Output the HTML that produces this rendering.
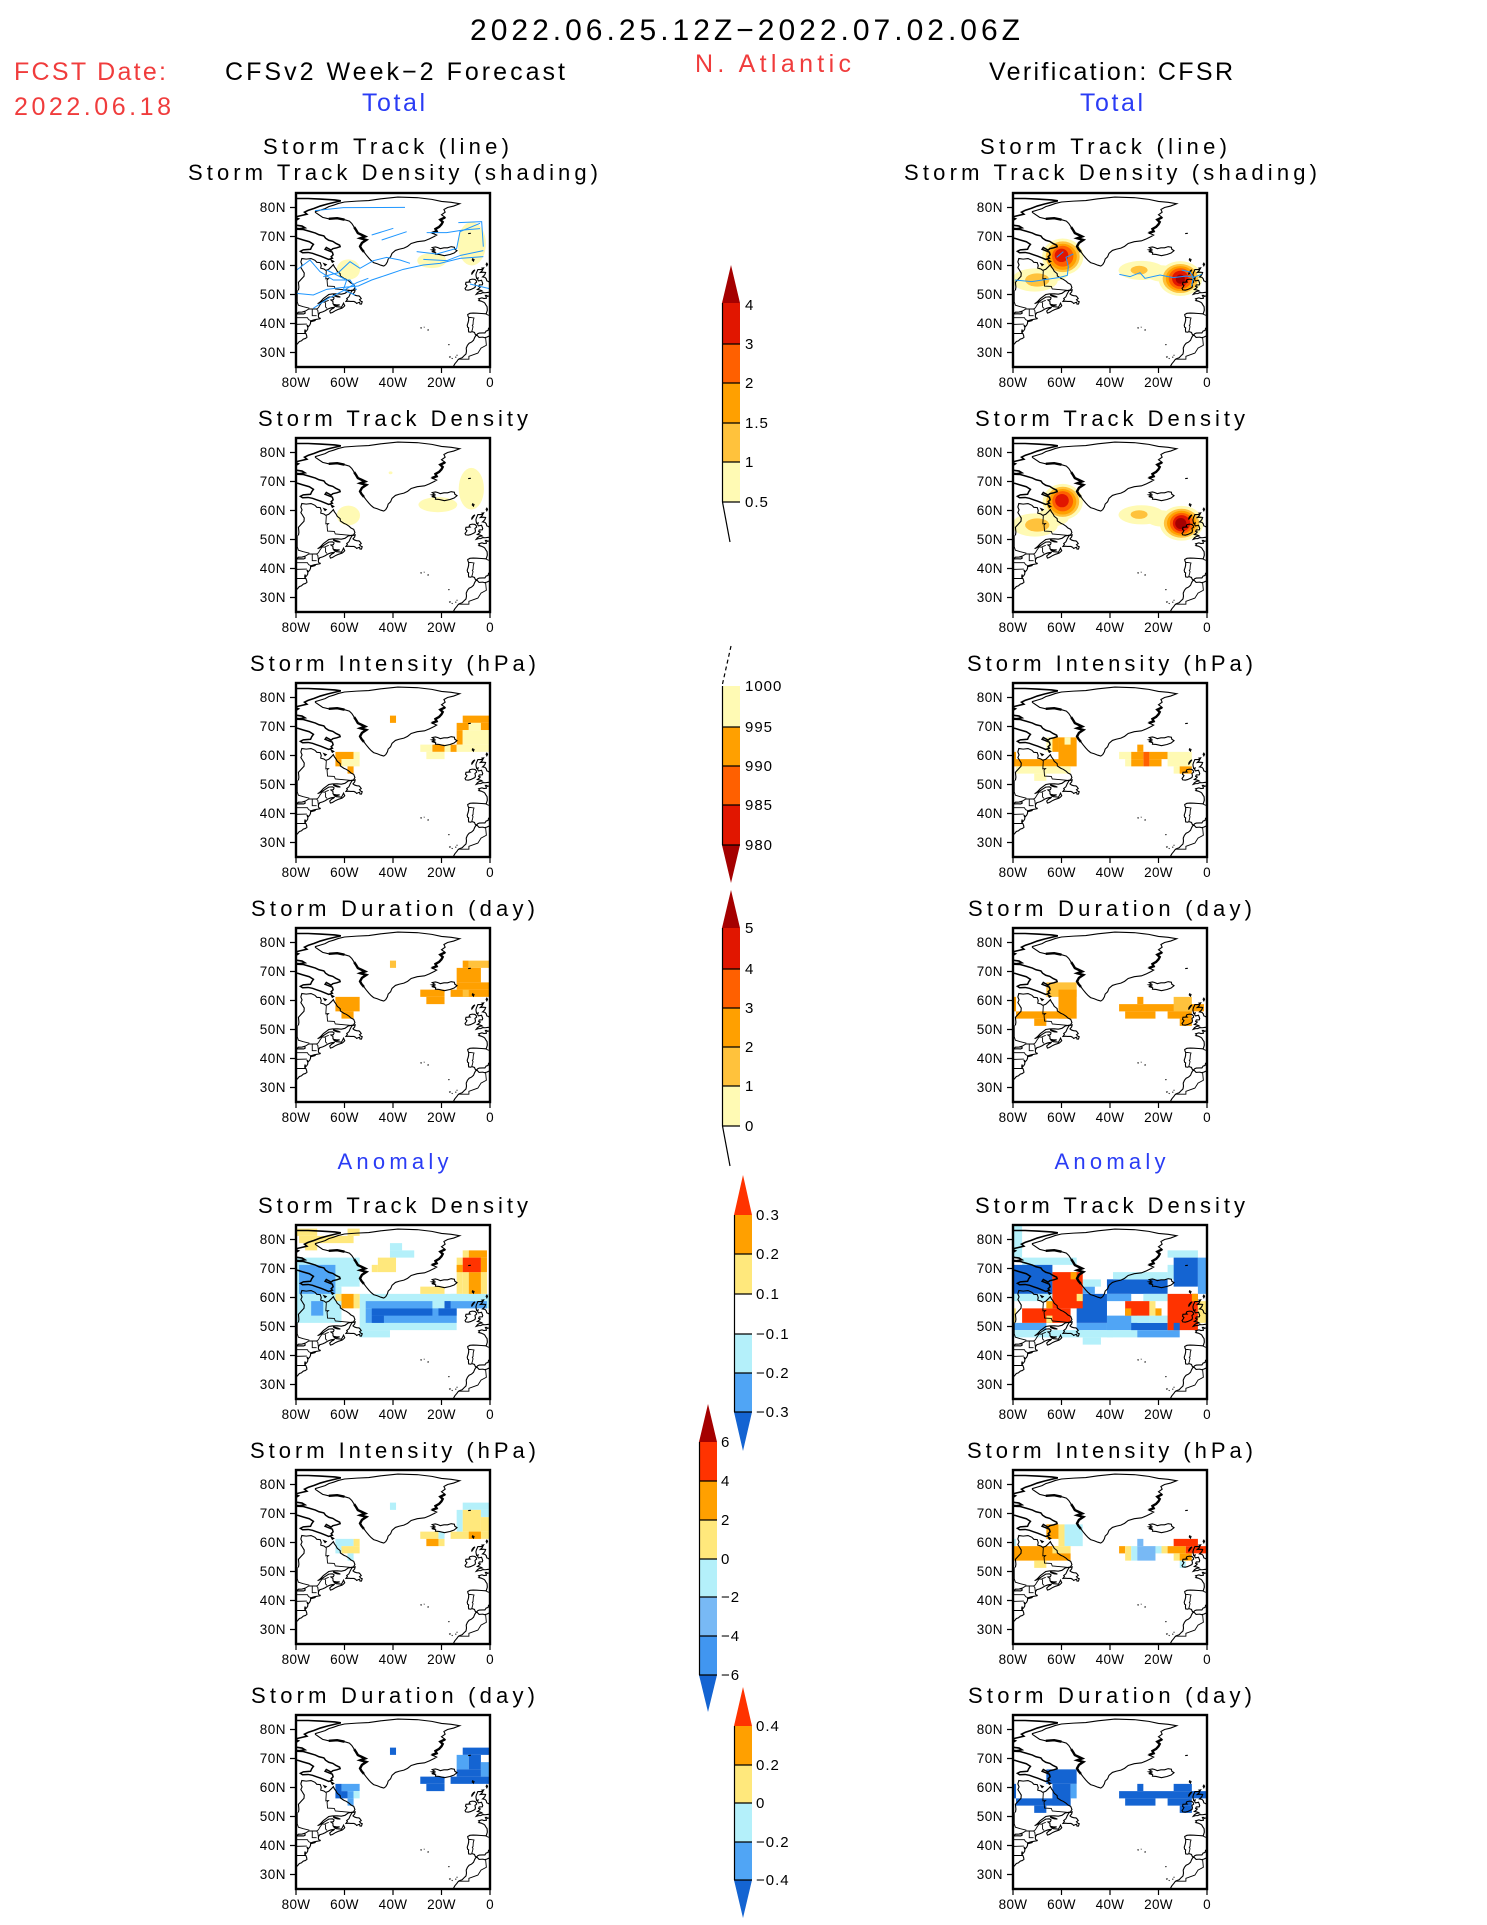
<!DOCTYPE html>
<html><head><meta charset="utf-8">
<style>
html,body{margin:0;padding:0;background:#fff}
svg{display:block}
text{font-family:"Liberation Sans",sans-serif;fill:#000}
.lt{font-size:13.5px;text-anchor:end;letter-spacing:0.5px}
.ln{font-size:13.5px;text-anchor:middle;letter-spacing:0.3px}
.tt{font-size:22px;text-anchor:middle}
.cb{font-size:15px;letter-spacing:1px}
.ly{fill:#fffab4}.lo{fill:#ffc23c}.o{fill:#ffa000}.or{fill:#ff6000}.r{fill:#e11600}.dr{fill:#a50000}
.ay{fill:#ffe87c}.ao{fill:#ffa000}.ar{fill:#ff3300}.c{fill:#b4f0fa}.b1{fill:#78b9f5}.b{fill:#50a5f5}.b2{fill:#4196f0}.db{fill:#1464d2}
.trk{fill:none;stroke:#1e96ff;stroke-width:3}
</style></head><body>
<svg width="1487" height="1925" viewBox="0 0 1487 1925" xmlns="http://www.w3.org/2000/svg">
<defs>
<clipPath id="cp"><rect x="-80" y="25" width="80" height="60"/></clipPath>
<g id="coast" fill="none" stroke="#000" stroke-width="1.1">
<path vector-effect="non-scaling-stroke" d="M-72,78.3 L-69,76.6 L-66.5,76.1 L-63,76.3 L-60,75.8 L-58,75.3 L-57,74.5 L-56,73.2 L-55.2,72.2 L-54.5,71.2 L-53,70.6 L-51.5,70 L-53.5,69.4 L-51,68.8 L-52.8,67.8 L-53.6,66.6 L-53,65.7 L-52,64.7 L-51,63.6 L-50,62.6 L-49,61.7 L-48,61 L-46.5,60.6 L-45,60.1 L-43.8,59.8 L-43,60.3 L-42.3,61.3 L-42,62.2 L-41,63 L-40.4,64.2 L-39,65.2 L-37.5,65.6 L-35.5,66 L-34,66.6 L-32.5,67.6 L-30,68.2 L-27,68.5 L-25,69.2 L-23,70 L-22,70.5 L-24,71.2 L-22,71.8 L-22.5,72.6 L-21,73.3 L-20,74.2 L-19.5,75 L-20.5,75.8 L-18.5,76.6 L-20,77.5 L-18.5,78.4 L-19,79.3 L-17.5,80 L-15,80.5 L-12.5,81.3 L-16,81.8 L-20,82.1 L-24,82.8 L-30,83.4 L-38,83.6 L-45,83 L-50,82.4 L-55,82.2 L-60,81.9 L-62.5,81.4 L-64.5,80.8 L-66.5,80.3 L-68,79.6 L-70,79.1 L-72,78.6 Z"/>
<path vector-effect="non-scaling-stroke" stroke-width="2.4" d="M-56,73.2 L-55.2,72.2 L-54.5,71.2 L-53,70.6 L-51.5,70 L-53.5,69.4 L-51,68.8 L-52.8,67.8 L-53.6,66.6 L-53,65.7 L-52,64.7 M-24,71.2 L-22,71.8 L-22.5,72.6 L-21,73.3 L-20,74.2 L-19.5,75 L-20.5,75.8 L-18.5,76.6 M-66.5,76.1 L-63,76.3 L-60,75.8"/>
<path vector-effect="non-scaling-stroke" stroke-width="1.6" d="M-80,83.1 L-75,83.1 L-70,82.9 L-64,82.6 L-61.5,82.3 L-64,81.8 L-67,81.2 L-70,80.5 L-72.5,79.7 L-75,79 L-76.5,78.4 L-75.5,77.7 L-78,77.2 L-80,76.8 M-80,76.4 L-79,76.1 L-80,75.6 M-80,73.9 L-77.5,73.6 L-76.3,73 L-78.5,72.7 L-80,72.8"/>
<path vector-effect="non-scaling-stroke" stroke-width="1.5" d="M-80,72.5 L-77,72.4 L-74.5,71.8 L-72,71.2 L-70.5,70.6 L-68.5,70.2 L-67.8,69.4 L-66.5,68.7 L-64.8,68.3 L-63.5,67.6 L-62,67 L-61.8,66.5 L-63.2,66.1 L-64.8,65.8 L-65.5,65.3 L-67.5,66.2 L-68,65.6 L-65,64.6 L-64.7,63.7 L-65.5,63 L-65,62.5 L-66.5,62.1 L-68,62.6 L-69.8,63.2 L-71.5,63.7 L-73.2,64.2 L-75,64.5 L-77.3,64.4 L-78.2,64.9 L-77,65.4 L-74,65.6 L-73.5,66.5 L-72.8,67.3 L-74.5,68.2 L-77,68.8 L-79,69.3 L-80,69.5 M-65.3,61.7 L-64.6,61.4 L-65,61.2 Z M-68.3,60.5 L-67.7,60.3 L-68,60.1 Z"/>
<path vector-effect="non-scaling-stroke" d="M-79,51.4 L-78.8,52.5 L-79,54.2 L-77.8,55.3 L-76.7,56.3 L-76.6,57.4 L-77.4,58.5 L-78,59.3 L-77.5,60.2 L-78,61.2 L-77.6,62.4 L-75.8,62.2 L-73.8,62.4 L-72.2,61.8 L-71.4,61.1 L-70,61 L-69.6,60 L-69.8,59.1 L-68.5,58.8 L-67.7,58.3 L-66.5,58.7 L-65.5,59.5 L-64.6,60.3 L-64.2,59.6 L-63.5,58.8 L-63,58 L-61.8,57.2 L-61.7,56.4 L-60.3,55.6 L-59.2,55.2 L-58,54.5 L-57.4,54 L-56.2,53.5 L-55.7,52.4 L-56.3,51.6 L-57.3,51.4 L-58.5,51.2 L-59.8,50.4 L-61.3,50.1 L-63,50.25 L-65,50.2 L-66.5,50 L-67.6,49.3 L-68.7,48.6 L-69.7,47.7 L-70.5,47.1 L-71.1,46.85 L-70.3,47.1 L-69.2,47.6 L-68,48.3 L-66.5,49.1 L-65,49.2 L-64.3,48.8 L-64.6,48.2 L-65.6,48.1 L-64.8,47.6 L-64.7,46.8 L-64.2,46.2 L-63.3,45.8 L-62,45.7 L-61.3,45.6 L-60.8,46.3 L-60.4,47 L-59.9,46.1 L-60.5,45.6 L-61,45.3 L-62.5,44.9 L-63.6,44.5 L-65,43.8 L-65.8,43.6 L-66.1,44.3 L-65.2,45 L-64.5,45.3 L-64.2,45.6 L-65.5,45.4 L-66.2,45.2 L-67,44.9 L-68,44.4 L-69,44 L-70.2,43.7 L-70.7,43.1 L-70.8,42.5 L-70.6,42 L-70,41.8 L-70.1,41.65 L-70.7,41.55 L-71.4,41.45 L-72.5,41.3 L-73.6,41 L-74,40.7 L-74,40.1 L-74.3,39.5 L-74.9,38.9 L-75.5,39.5 L-75.1,38.6 L-75.2,38 L-75.6,37.5 L-76,37.2 L-76.3,37.9 L-76.4,37 L-75.9,36.5 L-75.6,35.8 L-75.5,35.2 L-76.2,34.8 L-77,34.6 L-77.8,34 L-78.6,33.8 L-79.2,33.2 L-80,32.5"/>
<path vector-effect="non-scaling-stroke" d="M-59.4,47.6 L-58.8,48.3 L-59.1,48.6 L-58.2,49.2 L-57.6,50.3 L-56.9,51.3 L-55.6,51.6 L-55.8,50.9 L-56.5,50.2 L-55.8,49.8 L-55,49.6 L-54,49.5 L-53.5,49.1 L-53.1,48.6 L-53.8,48.2 L-53.1,47.6 L-52.7,47.5 L-53,46.7 L-53.6,46.7 L-53.8,47.3 L-54.3,47.2 L-55,46.9 L-55.4,47.3 L-56.1,47.6 L-57.5,47.6 L-58.5,47.7 Z M-64.5,49.85 L-62.5,49.4 L-61.7,49.1 L-63,49.2 L-64.4,49.6 Z M-64.4,46.6 L-63.2,46.4 L-62,46.45 L-63,46.2 L-64,46.3 Z M-73.9,40.6 L-72.5,40.9 L-71.9,41.1 L-73,40.95 L-73.8,40.8 Z M-79.8,43.3 L-78,43.35 L-76.8,43.3 L-76.2,43.6 L-76.4,44.2 L-77.5,43.95 L-79,43.9 Z"/>
<path vector-effect="non-scaling-stroke" d="M-22.5,63.9 L-21,63.8 L-18.8,63.4 L-16.5,63.8 L-14.8,64.3 L-13.6,65.1 L-14.5,65.6 L-14.7,66.3 L-16,66.5 L-17.5,66.1 L-19,66.1 L-20.5,65.8 L-21.6,66.2 L-22.5,66.4 L-23.8,66.2 L-22.8,65.6 L-24,65.4 L-22.5,65 L-24,64.8 L-22.4,64.4 Z M-7.2,62.3 L-6.6,62.1 L-6.8,61.5 L-7.3,61.9 Z M-1.3,60.8 L-1,60.4 L-1.3,59.9 L-1.6,60.4 Z M-3.3,59.1 L-2.6,59.2 L-2.9,58.8 Z M-7.6,56.9 L-6.2,58.5 L-6.8,58.2 L-7.4,57.6 Z M-9,71 L-7.9,71.1"/>
<path vector-effect="non-scaling-stroke" d="M-10,51.6 L-9,51.5 L-8,51.7 L-6.9,52.1 L-6.2,52.4 L-6,53 L-6.2,53.8 L-5.5,54.3 L-5.7,54.8 L-6.2,55.2 L-7.3,55.3 L-8.3,55.1 L-8.6,54.6 L-8.2,54.3 L-9.9,54.2 L-10.1,53.5 L-9.5,53.1 L-9.8,52.6 L-10.3,52.1 Z M0,50.8 L-1,50.7 L-2,50.6 L-3,50.65 L-3.8,50.3 L-4.7,50.3 L-5.7,50.05 L-5.2,50.6 L-4.3,51.1 L-3.2,51.2 L-3.5,51.4 L-4.3,51.6 L-5.2,51.7 L-4.4,52.2 L-4,52.6 L-4.7,52.8 L-4.4,53.3 L-3.2,53.35 L-3,53.8 L-3.3,54.5 L-3.5,54.9 L-4.8,54.7 L-5.1,55.1 L-4.9,55.7 L-5.5,55.5 L-5.7,56.2 L-5.8,56.8 L-5.6,57.5 L-5.2,58.2 L-5,58.6 L-3.5,58.6 L-3,58.65 L-3.2,58.2 L-4,57.6 L-3,57.7 L-1.8,57.6 L-2.1,56.9 L-2.6,56.4 L-3.1,56.05 L-2.1,55.9 L-1.6,55.5 L-1.3,54.7 L-0.4,54.4 L0,53.6"/>
<path vector-effect="non-scaling-stroke" d="M0,49.6 L-1.1,49.35 L-1.3,49.7 L-1.9,49.7 L-1.6,49.2 L-1.5,48.7 L-2.5,48.6 L-3.3,48.85 L-4.7,48.5 L-4.3,48.1 L-4.6,47.9 L-3.6,47.7 L-2.5,47.3 L-2.1,47 L-1.7,46.4 L-1.2,45.8 L-1.1,44.6 L-1.5,43.5 L-1.8,43.35 L-3.5,43.45 L-5.5,43.55 L-7,43.6 L-8.3,43.5 L-9.2,43.1 L-9.1,42.6 L-8.8,42.1 L-8.8,41.2 L-9,40.4 L-9.4,39.4 L-9.2,38.7 L-8.8,38.5 L-8.9,37.9 L-8.8,37.1 L-8,37 L-7.4,37.2 L-6.4,36.9 L-6.1,36.3 L-5.6,36 L-5,36.5 L-4.4,36.7 L-3,36.75 L-2.1,36.75 L-1.6,37.4 L-0.8,37.6 L-0.6,38.3 L0,38.8 M0,35.8 L-1.3,35.3 L-2.2,35.1 L-3,35.3 L-4.5,35.2 L-5.3,35.9 L-5.9,35.8 L-6.3,35.2 L-6.8,34.2 L-7.6,33.6 L-8.6,33.2 L-9.3,32.5 L-9.8,31.5 L-9.7,30.5 L-9.9,29.5 L-10.8,28.8 L-11.5,28.2 L-12.5,27.9 L-13.2,27.5 L-13.6,27 L-14.5,26.1 L-14.9,25.5 L-15.2,25"/>
<path vector-effect="non-scaling-stroke" d="M-25.8,37.75 L-25.2,37.8 M-28.7,38.5 L-28.1,38.45 M-27.3,38.7 L-27,38.75 M-17.2,32.7 L-16.7,32.75 M-16.9,28.4 L-16.2,28.5 M-15.8,28 L-15.4,27.9 M-14.3,28.5 L-13.9,28.3 M-13.8,29 L-13.4,29.1"/>
<path vector-effect="non-scaling-stroke" stroke-width="0.9" d="M-8.9,42 L-8.2,42.1 L-6.6,41.9 L-6.9,41 L-7,39.6 L-7.3,39.4 L-7,38.9 L-7.2,38.2 L-7.5,37.3 M-1.8,43.35 L-1,43 L0,42.7 M-1.8,35 L-1.5,32.5 L-3.7,31.5 L-5,29.8 L-8.7,28.7 L-8.7,27.7 L-13.2,27.7 M-67.8,47.1 L-68.2,47.4 L-69.2,47.4 L-70,46.5 L-70.8,45.4 L-71.5,45 L-74.7,45 L-76.3,44.2 M-67.8,47.1 L-67.8,45.7 L-67.2,45.2 M-79.8,42.3 L-79.8,42 L-75.3,42 L-75,41.6 L-74.7,41.3 L-73.9,41 M-75.5,39.8 L-80,39.7 M-80,36.55 L-75.9,36.55 M-73.3,45 L-73.3,42.7 L-71.5,42.7 M-71.5,45 L-71,44.5 L-70.8,43.1 M-57.1,51.4 L-63.8,51.9 L-64.2,52.8 L-67,52.9 L-67.2,55 L-66.6,55.5 L-67.7,55.4 L-67.5,58.2 M-79.5,51.5 L-79.5,47.5 L-79,46.3 L-77,45.8 L-74.5,45.3 M-66.5,48 L-68,47.5"/>
</g>
<g id="fr"><rect x="0" y="0" width="194" height="174" fill="none" stroke="#000" stroke-width="2.4"/><path d="M-6 14.5H0M-6 43.5H0M-6 72.5H0M-6 101.5H0M-6 130.5H0M-6 159.5H0M0 174v6M48.5 174v6M97 174v6M145.5 174v6M194 174v6" stroke="#000" stroke-width="1.2" fill="none"/></g>
</defs>

<!-- HEADER -->
<text x="470" y="40" font-size="30" textLength="550">2022.06.25.12Z−2022.07.02.06Z</text>
<text x="14" y="80" font-size="25" textLength="152" style="fill:#f03c3c">FCST Date:</text>
<text x="14" y="115" font-size="25" textLength="157" style="fill:#f03c3c">2022.06.18</text>
<text x="225" y="80" font-size="25" textLength="340">CFSv2 Week−2 Forecast</text>
<text x="695" y="72" font-size="25" textLength="156" style="fill:#f03c3c">N. Atlantic</text>
<text x="989" y="80" font-size="25" textLength="244">Verification: CFSR</text>
<text x="362" y="111" font-size="25" textLength="63" style="fill:#2a3cf5">Total</text>
<text x="1080" y="111" font-size="25" textLength="63" style="fill:#2a3cf5">Total</text>
<text x="263" y="154" font-size="22" textLength="246">Storm Track (line)</text>
<text x="188" y="180" font-size="22" textLength="410">Storm Track Density (shading)</text>
<text x="980" y="154" font-size="22" textLength="247">Storm Track (line)</text>
<text x="904" y="180" font-size="22" textLength="413">Storm Track Density (shading)</text>

<!-- ROW TITLES -->
<text class="tt" x="393" y="426" textLength="270">Storm Track Density</text>
<text class="tt" x="1110" y="426" textLength="270">Storm Track Density</text>
<text class="tt" x="393" y="671" textLength="286">Storm Intensity (hPa)</text>
<text class="tt" x="1110" y="671" textLength="286">Storm Intensity (hPa)</text>
<text class="tt" x="393" y="916" textLength="284">Storm Duration (day)</text>
<text class="tt" x="1110" y="916" textLength="284">Storm Duration (day)</text>
<text class="tt" x="393" y="1169" textLength="111" style="fill:#2a3cf5">Anomaly</text>
<text class="tt" x="1110" y="1169" textLength="111" style="fill:#2a3cf5">Anomaly</text>
<text class="tt" x="393" y="1213" textLength="270">Storm Track Density</text>
<text class="tt" x="1110" y="1213" textLength="270">Storm Track Density</text>
<text class="tt" x="393" y="1458" textLength="286">Storm Intensity (hPa)</text>
<text class="tt" x="1110" y="1458" textLength="286">Storm Intensity (hPa)</text>
<text class="tt" x="393" y="1703" textLength="284">Storm Duration (day)</text>
<text class="tt" x="1110" y="1703" textLength="284">Storm Duration (day)</text>

<!-- ===== LEFT ROW 1 ===== -->
<g transform="matrix(2.425 0 0 -2.9 490 439.5)" clip-path="url(#cp)">
<ellipse class="ly" cx="-58.4" cy="58.6" rx="4.8" ry="3.5"/>
<ellipse class="ly" cx="-7.5" cy="67.5" rx="5.8" ry="7.5"/>
<ellipse class="ly" cx="-24" cy="61.7" rx="6" ry="2.6"/>
<use href="#coast"/>
</g>
<g transform="translate(170,180) scale(0.33333)" class="trk">
<path d="M435,92 L520,83 L705,82"/>
<path d="M605,165 L670,145"/>
<path d="M635,180 L710,155"/>
<path d="M380,340 L430,345 L470,328 L520,322 L565,318 L605,300 L650,285 L700,268 L760,255 L810,250 L870,235 L940,230"/>
<path d="M430,385 L475,355 L520,332 L560,308 L595,295"/>
<path d="M460,290 L505,278 L540,245 L570,265 L610,242 L650,232 L690,240 L720,250"/>
<path d="M740,215 L800,222 L860,205 L870,155 L930,130"/>
<path d="M760,238 L830,242 L872,226 L940,212"/>
<path d="M865,128 L935,125 L940,200"/>
<path d="M900,312 L958,326"/>
<path d="M770,158 L830,158 L880,150 L930,146"/>
<path d="M380,270 L420,240 L450,275 L490,300 L540,300 L560,330"/>
<path d="M470,270 L500,285 L530,300 L520,330 L555,345"/>
</g>
<use href="#fr" x="296" y="193"/>

<!-- ===== RIGHT ROW 1 ===== -->
<g transform="matrix(2.425 0 0 -2.9 1207 439.5)" clip-path="url(#cp)">
<ellipse class="ly" cx="-64" cy="57.5" rx="7" ry="3"/>
<ellipse class="ly" cx="-71" cy="55" rx="9.5" ry="4"/>
<ellipse class="ly" cx="-59.5" cy="63" rx="8.5" ry="6.3"/>
<ellipse class="ly" cx="-27" cy="58.3" rx="9.5" ry="3.3"/>
<ellipse class="ly" cx="-19" cy="57.3" rx="6" ry="2.8"/>
<ellipse class="ly" cx="-11" cy="55.5" rx="9" ry="6"/>
<ellipse class="lo" cx="-70" cy="55" rx="5" ry="2.3"/>
<ellipse class="lo" cx="-28" cy="58.4" rx="3.5" ry="1.5"/>
<ellipse class="lo" cx="-59.5" cy="63" rx="7" ry="5.3"/>
<ellipse class="o" cx="-59.5" cy="63" rx="5.8" ry="4.5"/>
<ellipse class="or" cx="-59.5" cy="63.2" rx="4.4" ry="3.6"/>
<ellipse class="r" cx="-60" cy="63.5" rx="2.8" ry="2.3"/>
<ellipse class="lo" cx="-11" cy="55.5" rx="7.3" ry="5"/>
<ellipse class="o" cx="-11" cy="55.5" rx="6" ry="4.3"/>
<ellipse class="or" cx="-11" cy="55.5" rx="4.8" ry="3.6"/>
<ellipse class="r" cx="-11" cy="55.5" rx="3.4" ry="2.7"/>
<ellipse class="dr" cx="-11" cy="55.3" rx="1.9" ry="1.6"/>
<use href="#coast"/>
</g>
<g transform="translate(960,180) scale(0.33333)" class="trk">
<path d="M165,300 L215,305 L260,298 L300,292 L322,286 L325,260 L318,232 L340,222"/>
<path d="M290,232 L310,215"/>
<path d="M478,283 L510,290 L540,278 L555,295 L600,285 L640,293 L680,288 L700,292 L725,283"/>
<path d="M665,270 L690,276 L700,292 L695,318"/>
</g>
<use href="#fr" x="1013" y="193"/>

<!-- ===== LEFT ROW 2 ===== -->
<g transform="matrix(2.425 0 0 -2.9 490 684.5)" clip-path="url(#cp)">
<ellipse class="ly" cx="-58.4" cy="58.3" rx="4.8" ry="3.4"/>
<ellipse class="ly" cx="-21.5" cy="62" rx="8" ry="2.6"/>
<ellipse class="ly" cx="-7.7" cy="67.5" rx="5.2" ry="7.2"/>
<ellipse class="ly" cx="-41" cy="73" rx="0.8" ry="0.5"/>
<use href="#coast"/>
</g>
<use href="#fr" x="296" y="438"/>

<!-- ===== RIGHT ROW 2 ===== -->
<g transform="matrix(2.425 0 0 -2.9 1207 684.5)" clip-path="url(#cp)">
<ellipse class="ly" cx="-64" cy="57.5" rx="7" ry="3"/>
<ellipse class="ly" cx="-71" cy="55" rx="9.5" ry="4"/>
<ellipse class="ly" cx="-59.5" cy="63" rx="8.3" ry="6.2"/>
<ellipse class="ly" cx="-27" cy="58.5" rx="9.5" ry="3.3"/>
<ellipse class="ly" cx="-19" cy="57.3" rx="6" ry="2.8"/>
<ellipse class="ly" cx="-10.5" cy="55.6" rx="9" ry="6"/>
<ellipse class="lo" cx="-70" cy="55" rx="5" ry="2.3"/>
<ellipse class="lo" cx="-28" cy="58.6" rx="3.5" ry="1.5"/>
<ellipse class="lo" cx="-59.5" cy="63" rx="6.8" ry="5.2"/>
<ellipse class="o" cx="-59.5" cy="63" rx="5.6" ry="4.4"/>
<ellipse class="or" cx="-59.5" cy="63.2" rx="4.3" ry="3.5"/>
<ellipse class="r" cx="-59.8" cy="63.4" rx="2.8" ry="2.3"/>
<ellipse class="lo" cx="-10.5" cy="55.6" rx="7.3" ry="5"/>
<ellipse class="o" cx="-10.5" cy="55.6" rx="6" ry="4.3"/>
<ellipse class="or" cx="-10.5" cy="55.6" rx="4.8" ry="3.6"/>
<ellipse class="r" cx="-10.5" cy="55.6" rx="3.6" ry="2.8"/>
<ellipse class="dr" cx="-10.8" cy="55.5" rx="2.3" ry="1.9"/>
<use href="#coast"/>
</g>
<use href="#fr" x="1013" y="438"/>

<!-- ===== LEFT ROW 3 (intensity) ===== -->
<g transform="matrix(2.425 0 0 -2.9 490 929.5)" clip-path="url(#cp)">
<rect class="o" x="-41.25" y="71.25" width="2.5" height="2.5"/>
<rect class="o" x="-11.25" y="71.25" width="12.5" height="2.5"/>
<rect class="o" x="-13.75" y="68.75" width="5" height="2.5"/>
<rect class="ly" x="-8.75" y="68.75" width="5" height="2.5"/>
<rect class="o" x="-3.75" y="68.75" width="5" height="2.5"/>
<rect class="o" x="-13.75" y="63.75" width="2.5" height="5"/>
<rect class="ly" x="-11.25" y="63.75" width="12.5" height="5"/>
<rect class="ly" x="-28.75" y="61.25" width="5" height="2.5"/>
<rect class="o" x="-23.75" y="61.25" width="5" height="2.5"/>
<rect class="ly" x="-18.75" y="61.25" width="2.5" height="2.5"/>
<rect class="o" x="-16.25" y="61.25" width="2.5" height="2.5"/>
<rect class="ly" x="-13.75" y="61.25" width="15" height="2.5"/>
<rect class="ly" x="-26.25" y="58.75" width="7.5" height="2.5"/>
<rect class="o" x="-63.75" y="58.75" width="7.5" height="2.5"/>
<rect class="ly" x="-56.25" y="58.75" width="2.5" height="2.5"/>
<rect class="o" x="-63.75" y="56.25" width="2.5" height="2.5"/>
<rect class="ly" x="-61.25" y="56.25" width="7.5" height="2.5"/>
<rect class="o" x="-58.75" y="53.75" width="2.5" height="2.5"/>
<use href="#coast"/>
</g>
<use href="#fr" x="296" y="683"/>

<!-- ===== RIGHT ROW 3 (intensity) ===== -->
<g transform="matrix(2.425 0 0 -2.9 1207 929.5)" clip-path="url(#cp)">
<rect class="ly" x="-66.25" y="61.25" width="2.5" height="5"/>
<rect class="o" x="-63.75" y="61.25" width="2.5" height="5"/>
<rect class="o" x="-61.25" y="56.25" width="7.5" height="10"/>
<rect class="ly" x="-58.75" y="63.75" width="2.5" height="2.5"/>
<rect class="o" x="-80" y="56.25" width="1.25" height="5"/>
<rect class="o" x="-78.75" y="56.25" width="17.5" height="2.5"/>
<rect class="ly" x="-78.75" y="53.75" width="22.5" height="2.5"/>
<rect class="ly" x="-71.25" y="51.25" width="5" height="2.5"/>
<rect class="o" x="-28.75" y="61.25" width="2.5" height="2.5"/>
<rect class="ly" x="-36.25" y="58.75" width="5" height="2.5"/>
<rect class="o" x="-31.25" y="58.75" width="5" height="2.5"/>
<rect class="or" x="-26.25" y="56.25" width="2.5" height="5"/>
<rect class="o" x="-23.75" y="58.75" width="7.5" height="2.5"/>
<rect class="ly" x="-16.25" y="56.25" width="10" height="5"/>
<rect class="ly" x="-33.75" y="56.25" width="2.5" height="2.5"/>
<rect class="o" x="-31.25" y="56.25" width="5" height="2.5"/>
<rect class="o" x="-23.75" y="56.25" width="5" height="2.5"/>
<rect class="ly" x="-13.75" y="53.75" width="5" height="2.5"/>
<rect class="o" x="-11.25" y="53.75" width="5" height="2.5"/>
<use href="#coast"/>
</g>
<use href="#fr" x="1013" y="683"/>

<!-- ===== LEFT ROW 4 (duration) ===== -->
<g transform="matrix(2.425 0 0 -2.9 490 1174.5)" clip-path="url(#cp)">
<rect class="lo" x="-41.25" y="71.25" width="2.5" height="2.5"/>
<rect class="o" x="-11.25" y="71.25" width="2.5" height="2.5"/>
<rect class="lo" x="-8.75" y="71.25" width="10" height="2.5"/>
<rect class="o" x="-13.75" y="66.25" width="10" height="5"/>
<rect class="o" x="-13.75" y="63.75" width="15" height="2.5"/>
<rect class="o" x="-16.25" y="61.25" width="17.5" height="2.5"/>
<rect class="lo" x="-11.25" y="61.25" width="2.5" height="2.5"/>
<rect class="o" x="-28.75" y="61.25" width="10" height="2.5"/>
<rect class="o" x="-26.25" y="58.75" width="7.5" height="2.5"/>
<rect class="o" x="-63.75" y="56.25" width="10" height="5"/>
<rect class="o" x="-61.25" y="53.75" width="5" height="2.5"/>
<use href="#coast"/>
</g>
<use href="#fr" x="296" y="928"/>

<!-- ===== RIGHT ROW 4 (duration) ===== -->
<g transform="matrix(2.425 0 0 -2.9 1207 1174.5)" clip-path="url(#cp)">
<rect class="lo" x="-66.25" y="61.25" width="12.5" height="5"/>
<rect class="o" x="-61.25" y="53.75" width="7.5" height="10"/>
<rect class="o" x="-80" y="56.25" width="1.25" height="5"/>
<rect class="o" x="-78.75" y="53.75" width="22.5" height="2.5"/>
<rect class="o" x="-71.25" y="51.25" width="5" height="2.5"/>
<rect class="o" x="-36.25" y="56.25" width="35" height="2.5"/>
<rect class="o" x="-28.75" y="58.75" width="2.5" height="2.5"/>
<rect class="o" x="-33.75" y="53.75" width="12.5" height="2.5"/>
<rect class="o" x="-16.25" y="53.75" width="10" height="2.5"/>
<rect class="o" x="-11.25" y="51.25" width="5" height="2.5"/>
<rect class="lo" x="-13.75" y="56.25" width="7.5" height="5"/>
<use href="#coast"/>
</g>
<use href="#fr" x="1013" y="928"/>

<!-- ===== LEFT ROW 5 (anom density) ===== -->
<g transform="matrix(2.425 0 0 -2.9 490 1471.5)" clip-path="url(#cp)">
<rect class="c" x="-80" y="63.75" width="26.25" height="10"/>
<rect class="c" x="-80" y="51.25" width="18.75" height="12.5"/>
<rect class="b" x="-78.75" y="61.25" width="15" height="10"/>
<rect class="b" x="-73.75" y="53.75" width="5" height="5"/>
<rect class="c" x="-41.25" y="76.25" width="5" height="2.5"/>
<rect class="c" x="-41.25" y="73.75" width="10" height="2.5"/>
<rect class="c" x="-53.75" y="48.75" width="40" height="12.5"/>
<rect class="c" x="-53.75" y="46.25" width="12.5" height="2.5"/>
<rect class="c" x="-16.25" y="56.25" width="16.25" height="5"/>
<rect class="b" x="-51.25" y="51.25" width="37.5" height="5"/>
<rect class="b" x="-51.25" y="56.25" width="27.5" height="2.5"/>
<rect class="b" x="-18.75" y="56.25" width="17.5" height="2.5"/>
<rect class="db" x="-48.75" y="53.75" width="25" height="2.5"/>
<rect class="db" x="-48.75" y="51.25" width="5" height="2.5"/>
<rect class="db" x="-21.25" y="53.75" width="7.5" height="2.5"/>
<rect class="db" x="-18.75" y="56.25" width="2.5" height="2.5"/>
<rect class="ay" x="-80" y="81.25" width="8.75" height="2.5"/>
<rect class="ay" x="-58.75" y="81.25" width="5" height="2.5"/>
<rect class="ay" x="-78.75" y="78.75" width="22.5" height="2.5"/>
<rect class="ay" x="-76.25" y="76.25" width="5" height="2.5"/>
<rect class="ay" x="-46.25" y="68.75" width="7.5" height="5"/>
<rect class="ay" x="-48.75" y="68.75" width="2.5" height="2.5"/>
<rect class="ay" x="-63.75" y="58.75" width="2.5" height="2.5"/>
<rect class="ay" x="-56.25" y="56.25" width="2.5" height="5"/>
<rect class="ay" x="-28.75" y="61.25" width="10" height="2.5"/>
<rect class="ay" x="-13.75" y="61.25" width="2.5" height="12.5"/>
<rect class="ay" x="-11.25" y="61.25" width="2.5" height="7.5"/>
<rect class="ay" x="-3.75" y="61.25" width="2.5" height="7.5"/>
<rect class="ay" x="-11.25" y="73.75" width="2.5" height="2.5"/>
<rect class="ao" x="-61.25" y="56.25" width="5" height="5"/>
<rect class="ao" x="-8.75" y="61.25" width="5" height="7.5"/>
<rect class="ao" x="-8.75" y="73.75" width="7.5" height="2.5"/>
<rect class="ao" x="-13.75" y="68.75" width="2.5" height="2.5"/>
<rect class="ao" x="-3.75" y="68.75" width="2.5" height="5"/>
<rect class="ar" x="-11.25" y="68.75" width="7.5" height="5"/>
<use href="#coast"/>
</g>
<use href="#fr" x="296" y="1225"/>

<!-- ===== RIGHT ROW 5 (anom density) ===== -->
<g transform="matrix(2.425 0 0 -2.9 1207 1471.5)" clip-path="url(#cp)">
<rect class="c" x="-80" y="73.75" width="3.75" height="11.25"/>
<rect class="c" x="-76.25" y="71.25" width="22.5" height="2.5"/>
<rect class="db" x="-80" y="61.25" width="16.25" height="10"/>
<rect class="c" x="-80" y="58.75" width="16.25" height="2.5"/>
<rect class="b" x="-80" y="48.75" width="13.75" height="2.5"/>
<rect class="c" x="-80" y="46.25" width="28.75" height="2.5"/>
<rect class="b" x="-53.75" y="48.75" width="12.5" height="2.5"/>
<rect class="c" x="-53.75" y="46.25" width="15" height="2.5"/>
<rect class="c" x="-51.25" y="43.75" width="7.5" height="2.5"/>
<rect class="db" x="-53.75" y="51.25" width="12.5" height="10"/>
<rect class="b" x="-51.25" y="61.25" width="5" height="2.5"/>
<rect class="c" x="-51.25" y="63.75" width="7.5" height="2.5"/>
<rect class="b" x="-41.25" y="63.75" width="3.75" height="2.5"/>
<rect class="db" x="-41.25" y="61.25" width="25" height="5"/>
<rect class="c" x="-38.75" y="66.25" width="22.5" height="2.5"/>
<rect class="c" x="-16.25" y="73.75" width="12.5" height="2.5"/>
<rect class="c" x="-16.25" y="66.25" width="2.5" height="5"/>
<rect class="db" x="-13.75" y="63.75" width="10" height="10"/>
<rect class="b" x="-3.75" y="61.25" width="3.75" height="12.5"/>
<rect class="b" x="-41.25" y="58.75" width="10" height="2.5"/>
<rect class="b" x="-41.25" y="48.75" width="12.5" height="5"/>
<rect class="c" x="-41.25" y="46.25" width="12.5" height="2.5"/>
<rect class="db" x="-31.25" y="48.75" width="15" height="2.5"/>
<rect class="b" x="-28.75" y="46.25" width="17.5" height="2.5"/>
<rect class="c" x="-23.75" y="51.25" width="10" height="2.5"/>
<rect class="c" x="-31.25" y="51.25" width="7.5" height="2.5"/>
<rect class="c" x="-26.25" y="58.75" width="10" height="2.5"/>
<rect class="ar" x="-63.75" y="56.25" width="12.5" height="12.5"/>
<rect class="ao" x="-56.25" y="66.25" width="2.5" height="2.5"/>
<rect class="ay" x="-53.75" y="58.75" width="2.5" height="2.5"/>
<rect class="ar" x="-76.25" y="51.25" width="20" height="5"/>
<rect class="ao" x="-66.25" y="56.25" width="2.5" height="2.5"/>
<rect class="ay" x="-66.25" y="51.25" width="2.5" height="2.5"/>
<rect class="ay" x="-80" y="51.25" width="1.25" height="5"/>
<rect class="ar" x="-33.75" y="53.75" width="10" height="5"/>
<rect class="ao" x="-33.75" y="53.75" width="2.5" height="2.5"/>
<rect class="ay" x="-23.75" y="53.75" width="2.5" height="5"/>
<rect class="ao" x="-21.25" y="53.75" width="2.5" height="2.5"/>
<rect class="ar" x="-16.25" y="48.75" width="12.5" height="12.5"/>
<rect class="ao" x="-6.25" y="58.75" width="2.5" height="2.5"/>
<rect class="ay" x="-3.75" y="51.25" width="3.75" height="7.5"/>
<rect class="db" x="-13.75" y="48.75" width="2.5" height="2.5"/>
<use href="#coast"/>
</g>
<use href="#fr" x="1013" y="1225"/>

<!-- ===== LEFT ROW 6 (anom intensity) ===== -->
<g transform="matrix(2.425 0 0 -2.9 490 1716.5)" clip-path="url(#cp)">
<rect class="c" x="-41.25" y="71.25" width="2.5" height="2.5"/>
<rect class="c" x="-11.25" y="71.25" width="12.5" height="2.5"/>
<rect class="c" x="-13.75" y="63.75" width="2.5" height="7.5"/>
<rect class="ay" x="-11.25" y="63.75" width="7.5" height="7.5"/>
<rect class="c" x="-3.75" y="68.75" width="3.75" height="2.5"/>
<rect class="ay" x="-3.75" y="63.75" width="3.75" height="5"/>
<rect class="ay" x="-16.25" y="61.25" width="16.25" height="2.5"/>
<rect class="ao" x="-8.75" y="61.25" width="5" height="2.5"/>
<rect class="ay" x="-28.75" y="61.25" width="7.5" height="2.5"/>
<rect class="c" x="-21.25" y="61.25" width="2.5" height="2.5"/>
<rect class="ao" x="-26.25" y="58.75" width="5" height="2.5"/>
<rect class="ay" x="-21.25" y="58.75" width="2.5" height="2.5"/>
<rect class="c" x="-63.75" y="58.75" width="7.5" height="2.5"/>
<rect class="ay" x="-56.25" y="58.75" width="2.5" height="2.5"/>
<rect class="c" x="-63.75" y="56.25" width="2.5" height="2.5"/>
<rect class="ay" x="-61.25" y="56.25" width="7.5" height="2.5"/>
<rect class="c" x="-58.75" y="53.75" width="2.5" height="2.5"/>
<use href="#coast"/>
</g>
<use href="#fr" x="296" y="1470"/>

<!-- ===== RIGHT ROW 6 (anom intensity) ===== -->
<g transform="matrix(2.425 0 0 -2.9 1207 1716.5)" clip-path="url(#cp)">
<rect class="ao" x="-66.25" y="61.25" width="5" height="5"/>
<rect class="ay" x="-61.25" y="58.75" width="2.5" height="7.5"/>
<rect class="c" x="-58.75" y="58.75" width="7.5" height="7.5"/>
<rect class="c" x="-80" y="58.75" width="1.25" height="2.5"/>
<rect class="ao" x="-80" y="53.75" width="18.75" height="5"/>
<rect class="ay" x="-63.75" y="56.25" width="7.5" height="2.5"/>
<rect class="ao" x="-61.25" y="53.75" width="5" height="2.5"/>
<rect class="ay" x="-71.25" y="51.25" width="5" height="2.5"/>
<rect class="ao" x="-36.25" y="56.25" width="2.5" height="2.5"/>
<rect class="ay" x="-33.75" y="53.75" width="2.5" height="5"/>
<rect class="c" x="-31.25" y="53.75" width="2.5" height="5"/>
<rect class="b1" x="-28.75" y="53.75" width="7.5" height="5"/>
<rect class="b1" x="-28.75" y="58.75" width="2.5" height="2.5"/>
<rect class="c" x="-21.25" y="56.25" width="2.5" height="2.5"/>
<rect class="ay" x="-18.75" y="56.25" width="2.5" height="2.5"/>
<rect class="ao" x="-16.25" y="56.25" width="7.5" height="2.5"/>
<rect class="ar" x="-13.75" y="58.75" width="10" height="2.5"/>
<rect class="ar" x="-8.75" y="56.25" width="8.75" height="2.5"/>
<rect class="ay" x="-13.75" y="53.75" width="5" height="2.5"/>
<rect class="ao" x="-11.25" y="53.75" width="5" height="2.5"/>
<rect class="c" x="-11.25" y="51.25" width="2.5" height="2.5"/>
<use href="#coast"/>
</g>
<use href="#fr" x="1013" y="1470"/>

<!-- ===== LEFT ROW 7 (anom duration) ===== -->
<g transform="matrix(2.425 0 0 -2.9 490 1961.5)" clip-path="url(#cp)">
<rect class="db" x="-41.25" y="71.25" width="2.5" height="2.5"/>
<rect class="db" x="-11.25" y="71.25" width="12.5" height="2.5"/>
<rect class="b" x="-13.75" y="66.25" width="5" height="5"/>
<rect class="db" x="-8.75" y="66.25" width="5" height="5"/>
<rect class="b" x="-3.75" y="63.75" width="3.75" height="5"/>
<rect class="db" x="-13.75" y="63.75" width="10" height="2.5"/>
<rect class="db" x="-16.25" y="61.25" width="16.25" height="2.5"/>
<rect class="db" x="-28.75" y="61.25" width="10" height="2.5"/>
<rect class="db" x="-26.25" y="58.75" width="7.5" height="2.5"/>
<rect class="db" x="-63.75" y="56.25" width="2.5" height="5"/>
<rect class="b" x="-61.25" y="58.75" width="7.5" height="2.5"/>
<rect class="db" x="-61.25" y="56.25" width="2.5" height="2.5"/>
<rect class="b" x="-58.75" y="56.25" width="2.5" height="2.5"/>
<rect class="c" x="-56.25" y="56.25" width="2.5" height="2.5"/>
<rect class="b" x="-58.75" y="53.75" width="2.5" height="2.5"/>
<use href="#coast"/>
</g>
<use href="#fr" x="296" y="1715"/>

<!-- ===== RIGHT ROW 7 (anom duration) ===== -->
<g transform="matrix(2.425 0 0 -2.9 1207 1961.5)" clip-path="url(#cp)">
<rect class="db" x="-66.25" y="61.25" width="12.5" height="5"/>
<rect class="db" x="-63.75" y="53.75" width="7.5" height="7.5"/>
<rect class="b" x="-56.25" y="56.25" width="2.5" height="5"/>
<rect class="db" x="-80" y="56.25" width="1.25" height="5"/>
<rect class="db" x="-78.75" y="53.75" width="22.5" height="2.5"/>
<rect class="db" x="-71.25" y="51.25" width="5" height="2.5"/>
<rect class="db" x="-36.25" y="56.25" width="36.25" height="2.5"/>
<rect class="db" x="-28.75" y="58.75" width="2.5" height="2.5"/>
<rect class="db" x="-13.75" y="58.75" width="7.5" height="2.5"/>
<rect class="db" x="-33.75" y="53.75" width="12.5" height="2.5"/>
<rect class="db" x="-16.25" y="53.75" width="10" height="2.5"/>
<rect class="db" x="-11.25" y="51.25" width="5" height="2.5"/>
<use href="#coast"/>
</g>
<use href="#fr" x="1013" y="1715"/>

<!-- ===== AXIS LABELS LEFT ===== -->
<g>
<text class="lt" x="286" y="212">80N</text><text class="lt" x="286" y="241">70N</text><text class="lt" x="286" y="270">60N</text><text class="lt" x="286" y="299">50N</text><text class="lt" x="286" y="328">40N</text><text class="lt" x="286" y="357">30N</text>
<text class="lt" x="286" y="457">80N</text><text class="lt" x="286" y="486">70N</text><text class="lt" x="286" y="515">60N</text><text class="lt" x="286" y="544">50N</text><text class="lt" x="286" y="573">40N</text><text class="lt" x="286" y="602">30N</text>
<text class="lt" x="286" y="702">80N</text><text class="lt" x="286" y="731">70N</text><text class="lt" x="286" y="760">60N</text><text class="lt" x="286" y="789">50N</text><text class="lt" x="286" y="818">40N</text><text class="lt" x="286" y="847">30N</text>
<text class="lt" x="286" y="947">80N</text><text class="lt" x="286" y="976">70N</text><text class="lt" x="286" y="1005">60N</text><text class="lt" x="286" y="1034">50N</text><text class="lt" x="286" y="1063">40N</text><text class="lt" x="286" y="1092">30N</text>
<text class="lt" x="286" y="1244">80N</text><text class="lt" x="286" y="1273">70N</text><text class="lt" x="286" y="1302">60N</text><text class="lt" x="286" y="1331">50N</text><text class="lt" x="286" y="1360">40N</text><text class="lt" x="286" y="1389">30N</text>
<text class="lt" x="286" y="1489">80N</text><text class="lt" x="286" y="1518">70N</text><text class="lt" x="286" y="1547">60N</text><text class="lt" x="286" y="1576">50N</text><text class="lt" x="286" y="1605">40N</text><text class="lt" x="286" y="1634">30N</text>
<text class="lt" x="286" y="1734">80N</text><text class="lt" x="286" y="1763">70N</text><text class="lt" x="286" y="1792">60N</text><text class="lt" x="286" y="1821">50N</text><text class="lt" x="286" y="1850">40N</text><text class="lt" x="286" y="1879">30N</text>
</g>
<g>
<text class="ln" x="296" y="387">80W</text><text class="ln" x="344.5" y="387">60W</text><text class="ln" x="393" y="387">40W</text><text class="ln" x="441.5" y="387">20W</text><text class="ln" x="490" y="387">0</text>
<text class="ln" x="296" y="632">80W</text><text class="ln" x="344.5" y="632">60W</text><text class="ln" x="393" y="632">40W</text><text class="ln" x="441.5" y="632">20W</text><text class="ln" x="490" y="632">0</text>
<text class="ln" x="296" y="877">80W</text><text class="ln" x="344.5" y="877">60W</text><text class="ln" x="393" y="877">40W</text><text class="ln" x="441.5" y="877">20W</text><text class="ln" x="490" y="877">0</text>
<text class="ln" x="296" y="1122">80W</text><text class="ln" x="344.5" y="1122">60W</text><text class="ln" x="393" y="1122">40W</text><text class="ln" x="441.5" y="1122">20W</text><text class="ln" x="490" y="1122">0</text>
<text class="ln" x="296" y="1419">80W</text><text class="ln" x="344.5" y="1419">60W</text><text class="ln" x="393" y="1419">40W</text><text class="ln" x="441.5" y="1419">20W</text><text class="ln" x="490" y="1419">0</text>
<text class="ln" x="296" y="1664">80W</text><text class="ln" x="344.5" y="1664">60W</text><text class="ln" x="393" y="1664">40W</text><text class="ln" x="441.5" y="1664">20W</text><text class="ln" x="490" y="1664">0</text>
<text class="ln" x="296" y="1909">80W</text><text class="ln" x="344.5" y="1909">60W</text><text class="ln" x="393" y="1909">40W</text><text class="ln" x="441.5" y="1909">20W</text><text class="ln" x="490" y="1909">0</text>
</g>

<!-- ===== AXIS LABELS RIGHT ===== -->
<g>
<text class="lt" x="1003" y="212">80N</text><text class="lt" x="1003" y="241">70N</text><text class="lt" x="1003" y="270">60N</text><text class="lt" x="1003" y="299">50N</text><text class="lt" x="1003" y="328">40N</text><text class="lt" x="1003" y="357">30N</text>
<text class="lt" x="1003" y="457">80N</text><text class="lt" x="1003" y="486">70N</text><text class="lt" x="1003" y="515">60N</text><text class="lt" x="1003" y="544">50N</text><text class="lt" x="1003" y="573">40N</text><text class="lt" x="1003" y="602">30N</text>
<text class="lt" x="1003" y="702">80N</text><text class="lt" x="1003" y="731">70N</text><text class="lt" x="1003" y="760">60N</text><text class="lt" x="1003" y="789">50N</text><text class="lt" x="1003" y="818">40N</text><text class="lt" x="1003" y="847">30N</text>
<text class="lt" x="1003" y="947">80N</text><text class="lt" x="1003" y="976">70N</text><text class="lt" x="1003" y="1005">60N</text><text class="lt" x="1003" y="1034">50N</text><text class="lt" x="1003" y="1063">40N</text><text class="lt" x="1003" y="1092">30N</text>
<text class="lt" x="1003" y="1244">80N</text><text class="lt" x="1003" y="1273">70N</text><text class="lt" x="1003" y="1302">60N</text><text class="lt" x="1003" y="1331">50N</text><text class="lt" x="1003" y="1360">40N</text><text class="lt" x="1003" y="1389">30N</text>
<text class="lt" x="1003" y="1489">80N</text><text class="lt" x="1003" y="1518">70N</text><text class="lt" x="1003" y="1547">60N</text><text class="lt" x="1003" y="1576">50N</text><text class="lt" x="1003" y="1605">40N</text><text class="lt" x="1003" y="1634">30N</text>
<text class="lt" x="1003" y="1734">80N</text><text class="lt" x="1003" y="1763">70N</text><text class="lt" x="1003" y="1792">60N</text><text class="lt" x="1003" y="1821">50N</text><text class="lt" x="1003" y="1850">40N</text><text class="lt" x="1003" y="1879">30N</text>
</g>
<g>
<text class="ln" x="1013" y="387">80W</text><text class="ln" x="1061.5" y="387">60W</text><text class="ln" x="1110" y="387">40W</text><text class="ln" x="1158.5" y="387">20W</text><text class="ln" x="1207" y="387">0</text>
<text class="ln" x="1013" y="632">80W</text><text class="ln" x="1061.5" y="632">60W</text><text class="ln" x="1110" y="632">40W</text><text class="ln" x="1158.5" y="632">20W</text><text class="ln" x="1207" y="632">0</text>
<text class="ln" x="1013" y="877">80W</text><text class="ln" x="1061.5" y="877">60W</text><text class="ln" x="1110" y="877">40W</text><text class="ln" x="1158.5" y="877">20W</text><text class="ln" x="1207" y="877">0</text>
<text class="ln" x="1013" y="1122">80W</text><text class="ln" x="1061.5" y="1122">60W</text><text class="ln" x="1110" y="1122">40W</text><text class="ln" x="1158.5" y="1122">20W</text><text class="ln" x="1207" y="1122">0</text>
<text class="ln" x="1013" y="1419">80W</text><text class="ln" x="1061.5" y="1419">60W</text><text class="ln" x="1110" y="1419">40W</text><text class="ln" x="1158.5" y="1419">20W</text><text class="ln" x="1207" y="1419">0</text>
<text class="ln" x="1013" y="1664">80W</text><text class="ln" x="1061.5" y="1664">60W</text><text class="ln" x="1110" y="1664">40W</text><text class="ln" x="1158.5" y="1664">20W</text><text class="ln" x="1207" y="1664">0</text>
<text class="ln" x="1013" y="1909">80W</text><text class="ln" x="1061.5" y="1909">60W</text><text class="ln" x="1110" y="1909">40W</text><text class="ln" x="1158.5" y="1909">20W</text><text class="ln" x="1207" y="1909">0</text>
</g>

<!-- ===== COLORBAR 1: density total ===== -->
<polygon points="722,303 740,303 731,265" fill="#a50000"/>
<rect x="722" y="303" width="18" height="41" fill="#e11600"/>
<rect x="722" y="344" width="18" height="39" fill="#ff6000"/>
<rect x="722" y="383" width="18" height="40" fill="#ffa000"/>
<rect x="722" y="423" width="18" height="39" fill="#ffc23c"/>
<rect x="722" y="462" width="18" height="40" fill="#fffab4"/>
<path d="M722.5 303V502M722 344H740M722 383H740M722 423H740M722 462H740M722 502H740M722.5 502L730 542" stroke="#000" stroke-width="1.2" fill="none"/>
<text class="cb" x="745" y="310">4</text>
<text class="cb" x="745" y="349">3</text>
<text class="cb" x="745" y="388">2</text>
<text class="cb" x="745" y="428">1.5</text>
<text class="cb" x="745" y="467">1</text>
<text class="cb" x="745" y="507">0.5</text>

<!-- ===== COLORBAR 2: intensity total ===== -->
<path d="M731 646L722.5 684" stroke="#000" stroke-width="1.2" stroke-dasharray="4,3" fill="none"/>
<rect x="722" y="686" width="18" height="41" fill="#fffab4"/>
<rect x="722" y="727" width="18" height="39" fill="#ffa000"/>
<rect x="722" y="766" width="18" height="39" fill="#ff6000"/>
<rect x="722" y="805" width="18" height="40" fill="#e11600"/>
<polygon points="722,845 740,845 731,883" fill="#a50000"/>
<path d="M722.5 686V845M722 727H740M722 766H740M722 805H740M722 845H740" stroke="#000" stroke-width="1.2" fill="none"/>
<text class="cb" x="745" y="691">1000</text>
<text class="cb" x="745" y="732">995</text>
<text class="cb" x="745" y="771">990</text>
<text class="cb" x="745" y="810">985</text>
<text class="cb" x="745" y="850">980</text>

<!-- ===== COLORBAR 3: duration total ===== -->
<polygon points="722,928 740,928 731,890" fill="#a50000"/>
<rect x="722" y="928" width="18" height="41" fill="#e11600"/>
<rect x="722" y="969" width="18" height="39" fill="#ff6000"/>
<rect x="722" y="1008" width="18" height="39" fill="#ffa000"/>
<rect x="722" y="1047" width="18" height="39" fill="#ffc23c"/>
<rect x="722" y="1086" width="18" height="40" fill="#fffab4"/>
<path d="M722.5 928V1126M722 969H740M722 1008H740M722 1047H740M722 1086H740M722 1126H740M722.5 1126L730 1166" stroke="#000" stroke-width="1.2" fill="none"/>
<text class="cb" x="745" y="933">5</text>
<text class="cb" x="745" y="974">4</text>
<text class="cb" x="745" y="1013">3</text>
<text class="cb" x="745" y="1052">2</text>
<text class="cb" x="745" y="1091">1</text>
<text class="cb" x="745" y="1131">0</text>

<!-- ===== COLORBAR 4: anomaly density ===== -->
<polygon points="734,1215 752,1215 743,1175" fill="#ff3300"/>
<rect x="734" y="1215" width="18" height="39" fill="#ffa000"/>
<rect x="734" y="1254" width="18" height="40" fill="#ffe87c"/>
<rect x="734" y="1334" width="18" height="39" fill="#b4f0fa"/>
<rect x="734" y="1373" width="18" height="39" fill="#50a5f5"/>
<polygon points="734,1412 752,1412 743,1451" fill="#1464d2"/>
<path d="M734.5 1215V1412M734 1254H752M734 1294H752M734 1334H752M734 1373H752M734 1412H752" stroke="#000" stroke-width="1.2" fill="none"/>
<text class="cb" x="756" y="1220">0.3</text>
<text class="cb" x="756" y="1259">0.2</text>
<text class="cb" x="756" y="1299">0.1</text>
<text class="cb" x="756" y="1339">−0.1</text>
<text class="cb" x="756" y="1378">−0.2</text>
<text class="cb" x="756" y="1417">−0.3</text>

<!-- ===== COLORBAR 5: anomaly intensity ===== -->
<polygon points="699,1442 717,1442 708,1404" fill="#a50000"/>
<rect x="699" y="1442" width="18" height="39" fill="#ff3300"/>
<rect x="699" y="1481" width="18" height="39" fill="#ffa000"/>
<rect x="699" y="1520" width="18" height="39" fill="#ffe87c"/>
<rect x="699" y="1559" width="18" height="38" fill="#b4f0fa"/>
<rect x="699" y="1597" width="18" height="39" fill="#78b9f5"/>
<rect x="699" y="1636" width="18" height="39" fill="#4196f0"/>
<polygon points="699,1675 717,1675 708,1712" fill="#1464d2"/>
<path d="M699.5 1442V1675M699 1481H717M699 1520H717M699 1559H717M699 1597H717M699 1636H717M699 1675H717" stroke="#000" stroke-width="1.2" fill="none"/>
<text class="cb" x="721" y="1447">6</text>
<text class="cb" x="721" y="1486">4</text>
<text class="cb" x="721" y="1525">2</text>
<text class="cb" x="721" y="1564">0</text>
<text class="cb" x="721" y="1602">−2</text>
<text class="cb" x="721" y="1641">−4</text>
<text class="cb" x="721" y="1680">−6</text>

<!-- ===== COLORBAR 6: anomaly duration ===== -->
<polygon points="734,1726 752,1726 743,1687" fill="#ff3300"/>
<rect x="734" y="1726" width="18" height="39" fill="#ffa000"/>
<rect x="734" y="1765" width="18" height="38" fill="#ffe87c"/>
<rect x="734" y="1803" width="18" height="39" fill="#b4f0fa"/>
<rect x="734" y="1842" width="18" height="38" fill="#50a5f5"/>
<polygon points="734,1880 752,1880 743,1918" fill="#1464d2"/>
<path d="M734.5 1726V1880M734 1765H752M734 1803H752M734 1842H752M734 1880H752" stroke="#000" stroke-width="1.2" fill="none"/>
<text class="cb" x="756" y="1731">0.4</text>
<text class="cb" x="756" y="1770">0.2</text>
<text class="cb" x="756" y="1808">0</text>
<text class="cb" x="756" y="1847">−0.2</text>
<text class="cb" x="756" y="1885">−0.4</text>
</svg>
</body></html>
